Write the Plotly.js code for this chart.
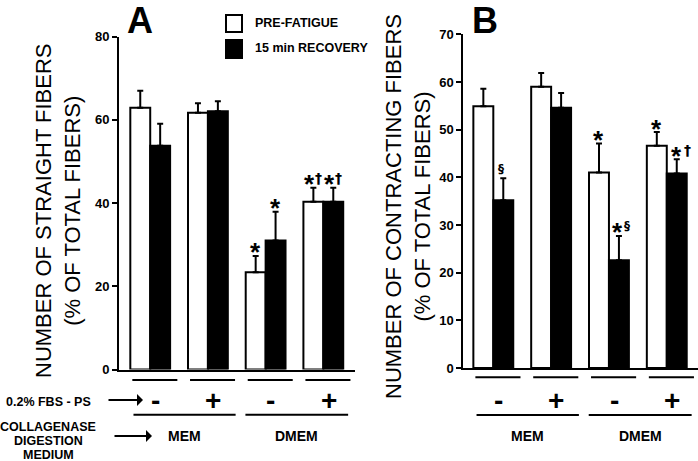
<!DOCTYPE html>
<html><head><meta charset="utf-8">
<script src="https://cdn.plot.ly/plotly-3.0.1.min.js"></script>
<style>html,body{margin:0;padding:0;background:#fff}#chart{width:698px;height:461px}</style>
</head><body><div id="chart"></div>
<script>
// ---- data ----
const groups = [0, 1, 2, 3];
const fbsLabels = ['-', '+', '-', '+'];
const mediumLabels = ['MEM', 'DMEM'];
const seriesNames = ['PRE-FATIGUE', '15 min RECOVERY'];

const straightPre = [62.9, 61.7, 23.4, 40.3];
const straightPreSem = [4.1, 2.3, 3.9, 3.4];
const straightRec = [53.8, 62.1, 31.0, 40.3];
const straightRecSem = [5.3, 2.4, 6.9, 3.4];

const contractPre = [54.9, 59.0, 41.0, 46.6];
const contractPreSem = [3.7, 2.9, 6.1, 2.9];
const contractRec = [35.2, 54.6, 22.6, 40.8];
const contractRecSem = [4.6, 3.1, 5.1, 3.0];

const sigStraightPre = ['', '', '*', '*†'];
const sigStraightRec = ['', '', '*', '*†'];
const sigContractPre = ['', '', '*', '*'];
const sigContractRec = ['§', '', '*§', '* †'];

// ---- helpers ----
const W = 698, H = 461;
const px = x => x / W;
const py = y => 1 - y / H;
const FONT = 'Liberation Sans, Arial, sans-serif';
const zeros = groups.map(() => 0);

function barTrace(vals, sem, name, fill, xa, ya) {
  return {
    type: 'bar', x: groups, y: vals, name: name, xaxis: xa, yaxis: ya,
    marker: {color: fill, line: {color: '#000', width: 2}},
    error_y: {type: 'data', symmetric: false, array: sem, arrayminus: zeros,
              color: '#000', thickness: 2, width: 3},
    showlegend: false, hoverinfo: 'skip'
  };
}

const traces = [
  barTrace(straightPre, straightPreSem, seriesNames[0], '#fff', 'x', 'y'),
  barTrace(straightRec, straightRecSem, seriesNames[1], '#000', 'x', 'y'),
  barTrace(contractPre, contractPreSem, seriesNames[0], '#fff', 'x2', 'y2'),
  barTrace(contractRec, contractRecSem, seriesNames[1], '#000', 'x2', 'y2')
];

const ann = [];
const shapes = [];
const off = 0.173;

const glyphStyle = {
  '*': {size: 26, weight: 'bold', dy: 3.5, family: FONT},
  '†': {size: 14, weight: 'bold', dy: 9.5, family: 'DejaVu Sans'},
  '§': {size: 12, weight: 'bold', dy: 9.5, family: 'DejaVu Sans'}
};
function sigMarks(labels, vals, sem, dx, xr, yr) {
  labels.forEach((t, i) => {
    if (!t) return;
    const chars = t.replace(/ /g, '').split('');
    let shifts;
    if (chars.length === 1) shifts = [chars[0] === '§' ? -2 : 0];
    else if (t.indexOf(' ') >= 0) shifts = [0, 11];
    else if (chars[1] === '§') shifts = [-1, 8];
    else shifts = [-4, 5];
    chars.forEach((c, k) => {
      const g = glyphStyle[c];
      ann.push({xref: xr, yref: yr, x: groups[i] + dx, y: vals[i] + sem[i],
                text: c, showarrow: false, xanchor: 'center', yanchor: 'middle',
                xshift: shifts[k], yshift: g.dy,
                font: {family: g.family, size: g.size, weight: g.weight, color: '#000'}});
    });
  });
}
sigMarks(sigStraightPre, straightPre, straightPreSem, -off, 'x', 'y');
sigMarks(sigStraightRec, straightRec, straightRecSem, off, 'x', 'y');
sigMarks(sigContractPre, contractPre, contractPreSem, -off, 'x2', 'y2');
sigMarks(sigContractRec, contractRec, contractRecSem, off, 'x2', 'y2');

function txt(xr, yr, x, y, text, size, weight, extra) {
  return Object.assign({xref: xr, yref: yr, x: x, y: y, text: text, showarrow: false,
    xanchor: 'center', yanchor: 'middle',
    font: {family: FONT, size: size, weight: weight, color: '#000'}}, extra || {});
}

// table under each panel
[['x', 380, 414.7], ['x2', 377.3, 415]].forEach(([xr, r1, r2]) => {
  groups.forEach(i => {
    shapes.push({type: 'line', xref: xr, yref: 'paper', x0: i - 0.31, x1: i + 0.47,
                 y0: py(r1), y1: py(r1), line: {color: '#000', width: 2}});
    ann.push(txt(xr, 'paper', i + 0.09, py(400), fbsLabels[i], 28, 'bold'));
  });
  [[-0.29, 1.48], [1.65, 3.43]].forEach((s, k) => {
    shapes.push({type: 'line', xref: xr, yref: 'paper', x0: s[0], x1: s[1],
                 y0: py(r2), y1: py(r2), line: {color: '#000', width: 2}});
    ann.push(txt(xr, 'paper', (s[0] + s[1]) / 2, py(436), mediumLabels[k], 14, 'bold'));
  });
});

// left-side row labels
ann.push(txt('paper', 'paper', px(48), py(402), '0.2% FBS - PS', 12.5, 'bold'));
['COLLAGENASE', 'DIGESTION', 'MEDIUM'].forEach((t, k) => {
  ann.push(txt('paper', 'paper', px(48), py(427 + 14 * k), t, 12.5, 'bold'));
});
[[107, 143, 400], [113, 152, 436]].forEach(([x0, x1, y]) => {
  ann.push({xref: 'paper', yref: 'paper', x: px(x1), y: py(y), axref: 'paper', ayref: 'paper',
            ax: px(x0), ay: py(y), text: '', showarrow: true, arrowhead: 1, arrowsize: 1,
            arrowwidth: 2, arrowcolor: '#000', standoff: 0, startstandoff: 0});
});

// y-axis titles
ann.push(txt('paper', 'paper', px(58), py(211), 'NUMBER OF STRAIGHT FIBERS<br>(% OF TOTAL FIBERS)', 22, 'normal', {textangle: -90}));
ann.push(txt('paper', 'paper', px(408), py(207), 'NUMBER OF CONTRACTING FIBERS<br>(% OF TOTAL FIBERS)', 22, 'normal', {textangle: -90}));

// panel letters
ann.push(txt('paper', 'paper', px(140), py(20), 'A', 36, 'bold'));
ann.push(txt('paper', 'paper', px(485), py(20), 'B', 36, 'bold'));

// legend (drawn)
shapes.push({type: 'rect', xref: 'paper', yref: 'paper', x0: px(226), x1: px(242), y0: py(15), y1: py(32),
             fillcolor: '#fff', line: {color: '#000', width: 2}});
shapes.push({type: 'rect', xref: 'paper', yref: 'paper', x0: px(226), x1: px(242), y0: py(40), y1: py(58),
             fillcolor: '#000', line: {color: '#000', width: 2}});
ann.push(txt('paper', 'paper', px(253), py(23), seriesNames[0], 12.5, 'bold', {xanchor: 'left'}));
ann.push(txt('paper', 'paper', px(253), py(48), seriesNames[1], 12.5, 'bold', {xanchor: 'left'}));

const yBase = {showgrid: false, zeroline: false, showline: true, linecolor: '#000', linewidth: 2,
               ticks: 'outside', ticklen: 5, tickwidth: 2, tickcolor: '#000',
               tickfont: {family: FONT, size: 13, weight: 'bold', color: '#000'}, fixedrange: true};
const xBase = {showgrid: false, zeroline: false, showline: true, linecolor: '#000', linewidth: 2,
               ticks: '', showticklabels: false, fixedrange: true};

const layout = {
  width: W, height: H, margin: {l: 0, r: 0, t: 0, b: 0, pad: 0},
  paper_bgcolor: '#fff', plot_bgcolor: 'rgba(0,0,0,0)',
  barmode: 'group', bargap: 0.31, bargroupgap: 0, showlegend: false,
  xaxis: Object.assign({}, xBase, {domain: [px(119), px(355)], range: [-0.541, 3.549], anchor: 'y'}),
  yaxis: Object.assign({}, yBase, {domain: [py(369.5), py(36.7)], range: [0, 80], tickvals: [0, 20, 40, 60, 80], anchor: 'x'}),
  xaxis2: Object.assign({}, xBase, {domain: [px(463.3), 1], range: [-0.519, 3.54], anchor: 'y2'}),
  yaxis2: Object.assign({}, yBase, {domain: [py(368), py(34.3)], range: [0, 70], tickvals: [0, 10, 20, 30, 40, 50, 60, 70], anchor: 'x2'}),
  annotations: ann, shapes: shapes
};

Plotly.newPlot('chart', traces, layout, {staticPlot: true, displayModeBar: false});
</script></body></html>
